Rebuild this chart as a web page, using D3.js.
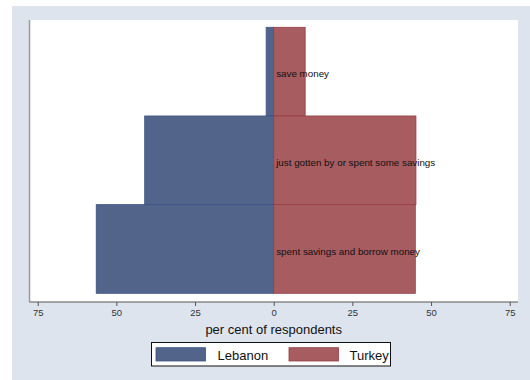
<!DOCTYPE html>
<html>
<head>
<meta charset="utf-8">
<script src="https://cdn.jsdelivr.net/npm/d3@7"></script>
<style>
  html, body { margin: 0; padding: 0; background: #ffffff; }
  svg { display: block; }
  text { font-family: "Liberation Sans", Arial, Helvetica, sans-serif; }
</style>
</head>
<body>
<svg id="chart" width="530" height="380"></svg>
<script>
// Outcome categories, listed top to bottom
const categories = [
  "save money",
  "just gotten by or spent some savings",
  "spent savings and borrow money"
];
// Share of respondents (%) per country
const lebanon = [2.4, 41, 56.4];
const turkey = [10, 45.2, 45];
const seriesNames = ["Lebanon", "Turkey"];
const tickValues = [-75, -50, -25, 0, 25, 50, 75];

const colors = {
  Lebanon: { fill: "#52648a", stroke: "#3e5285" },
  Turkey: { fill: "#a75c60", stroke: "#963c46" }
};

const svg = d3.select("#chart");

// outer panel
svg.append("rect")
  .attr("x", 12).attr("y", 6)
  .attr("width", 518).attr("height", 374)
  .attr("fill", "#dee4ee");

// plot region
const plot = { left: 29.5, right: 518, top: 20, bottom: 302 };
svg.append("rect")
  .attr("x", plot.left).attr("y", plot.top)
  .attr("width", plot.right - plot.left).attr("height", plot.bottom - plot.top)
  .attr("fill", "#ffffff");

const x = d3.scaleLinear().domain([-75, 75]).range([37.7, 509.7]);
const y = d3.scaleBand().domain(categories).range([27.3, 293.3]).padding(0);

const rows = categories.map((c, i) => ({ cat: c, leb: lebanon[i], tur: turkey[i] }));

// Lebanon bars extend left of zero
svg.append("g").selectAll("rect")
  .data(rows).join("rect")
  .attr("x", d => x(-d.leb))
  .attr("y", d => y(d.cat))
  .attr("width", d => x(0) - x(-d.leb))
  .attr("height", y.bandwidth())
  .attr("fill", colors.Lebanon.fill)
  .attr("stroke", colors.Lebanon.stroke)
  .attr("stroke-width", 0.8);

// Turkey bars extend right of zero
svg.append("g").selectAll("rect")
  .data(rows).join("rect")
  .attr("x", x(0))
  .attr("y", d => y(d.cat))
  .attr("width", d => x(d.tur) - x(0))
  .attr("height", y.bandwidth())
  .attr("fill", colors.Turkey.fill)
  .attr("stroke", colors.Turkey.stroke)
  .attr("stroke-width", 0.8);

// category labels
svg.append("g").selectAll("text")
  .data(rows).join("text")
  .attr("x", x(0) + 2.5)
  .attr("y", d => y(d.cat) + y.bandwidth() / 2 + 2.2)
  .attr("dy", "0.35em")
  .attr("font-size", 9.8)
  .attr("fill", "#111")
  .text(d => d.cat);

// left axis line
svg.append("line")
  .attr("x1", plot.left).attr("x2", plot.left)
  .attr("y1", plot.top).attr("y2", plot.bottom)
  .attr("stroke", "#9a9a9a").attr("stroke-width", 1.5);

// bottom axis
const xAxis = d3.axisBottom(x)
  .tickValues(tickValues)
  .tickFormat(d => Math.abs(d))
  .tickSize(4)
  .tickPadding(3);

const gx = svg.append("g")
  .attr("transform", `translate(0,${plot.bottom})`)
  .call(xAxis);
gx.select(".domain").remove();
gx.append("line")
  .attr("x1", plot.left).attr("x2", plot.right)
  .attr("y1", 0).attr("y2", 0)
  .attr("stroke", "#555").attr("stroke-width", 1);
gx.selectAll(".tick line").attr("stroke", "#555");
gx.selectAll(".tick text")
  .attr("font-size", 9.5)
  .attr("fill", "#333")
  .attr("font-family", "'Liberation Sans', Arial, sans-serif");

// axis title
svg.append("text")
  .attr("x", x(0))
  .attr("y", 329)
  .attr("dy", "0.35em")
  .attr("text-anchor", "middle")
  .attr("font-size", 13)
  .attr("fill", "#111")
  .text("per cent of respondents");

// legend
const legend = svg.append("g");
legend.append("rect")
  .attr("x", 151.5).attr("y", 342.5)
  .attr("width", 239).attr("height", 23.5)
  .attr("fill", "#ffffff")
  .attr("stroke", "#111").attr("stroke-width", 1);

const legendItems = [
  { name: seriesNames[0], sx: 156, tx: 217.5 },
  { name: seriesNames[1], sx: 289, tx: 349.5 }
];
legendItems.forEach(it => {
  legend.append("rect")
    .attr("x", it.sx).attr("y", 347.7)
    .attr("width", 49.5).attr("height", 13.3)
    .attr("fill", colors[it.name].fill)
    .attr("stroke", colors[it.name].stroke)
    .attr("stroke-width", 0.8);
  legend.append("text")
    .attr("x", it.tx).attr("y", 355)
    .attr("dy", "0.35em")
    .attr("font-size", 13)
    .attr("fill", "#111")
    .text(it.name);
});
</script>
</body>
</html>
